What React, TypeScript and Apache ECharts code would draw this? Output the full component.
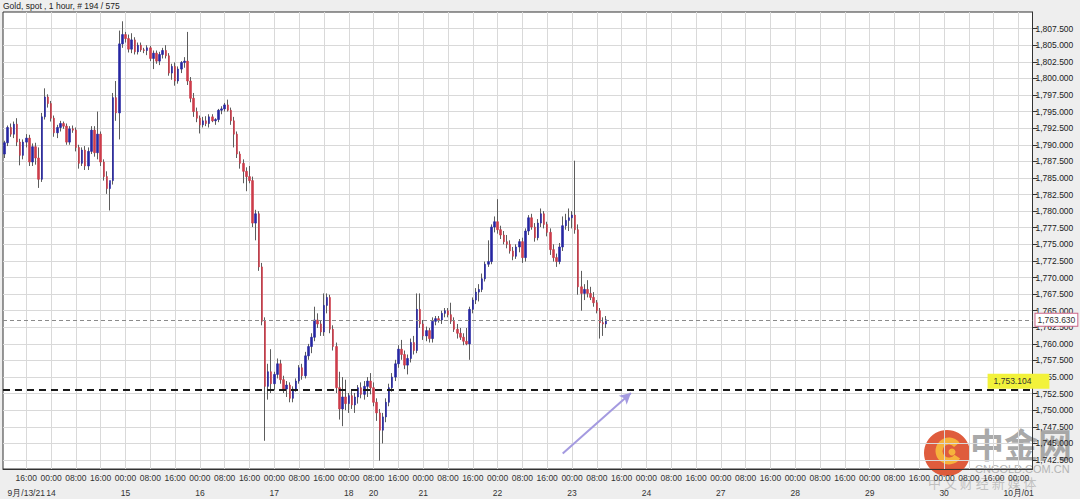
import React, { useEffect, useRef } from "react";
import * as echarts from "echarts";

// Trading-hour slots per day: [day, first hour, last hour, date label]
const daySpans: [string, number, number, string][] = [
  ["09-13", 9, 23, "9月/13/21"],
  ["09-14", 0, 23, "14"],
  ["09-15", 0, 23, "15"],
  ["09-16", 0, 23, "16"],
  ["09-17", 0, 23, "17"],
  ["09-18", 0, 4, "18"],
  ["09-20", 5, 23, "20"],
  ["09-21", 0, 23, "21"],
  ["09-22", 0, 23, "22"],
  ["09-23", 0, 23, "23"],
  ["09-24", 0, 23, "24"],
  ["09-27", 0, 23, "27"],
  ["09-28", 0, 23, "28"],
  ["09-29", 0, 23, "29"],
  ["09-30", 0, 23, "30"],
  ["10-01", 0, 4, "10月/01"],
];

const opens = [
  1788.6, 1790.3, 1792.6, 1791.6, 1793.1, 1790.4, 1788.4, 1790.4, 1791.0, 1787.4,
  1789.7, 1788.0, 1784.8, 1794.2, 1797.2, 1796.2, 1794.0, 1791.8, 1792.6, 1793.2,
  1792.8, 1790.4, 1792.4, 1792.2, 1789.6, 1787.2, 1789.2, 1786.8, 1789.0, 1792.2,
  1788.8, 1791.6, 1787.4, 1785.2, 1783.4, 1784.6, 1797.1, 1794.8, 1805.2, 1806.6,
  1806.0, 1804.4, 1805.8, 1804.0, 1805.0, 1804.3, 1804.2, 1804.6, 1803.0, 1803.8,
  1802.6, 1803.6, 1804.2, 1803.4, 1800.8, 1801.8, 1799.6, 1801.4, 1802.4, 1802.6,
  1799.6, 1797.0, 1795.0, 1794.0, 1793.0, 1793.6, 1793.2, 1794.2, 1793.6, 1793.8,
  1795.2, 1795.4, 1796.0, 1795.2, 1793.6, 1791.6, 1788.6, 1787.2, 1786.0, 1785.2,
  1784.6, 1778.2, 1779.6, 1771.6, 1763.4, 1753.6, 1755.8, 1754.0, 1755.4, 1757.0,
  1754.6, 1753.2, 1753.8, 1751.8, 1753.2, 1754.4, 1756.4, 1755.2, 1758.2, 1759.6,
  1761.0, 1763.6, 1763.0, 1761.8, 1765.8, 1767.0, 1762.2, 1759.6, 1753.4, 1750.2,
  1752.0, 1751.0, 1752.2, 1750.8, 1752.0, 1753.4, 1752.4, 1753.6, 1754.4, 1753.4,
  1751.2, 1749.6, 1747.0, 1749.0, 1751.2, 1753.4, 1755.0, 1757.0, 1759.2, 1758.4,
  1756.8, 1757.8, 1760.2, 1759.0, 1765.2, 1763.0, 1761.2, 1762.0, 1760.8, 1763.4,
  1763.8, 1763.6, 1764.6, 1765.0, 1764.4, 1763.4, 1762.2, 1761.6, 1761.0, 1760.4,
  1760.0, 1765.2, 1766.6, 1767.8, 1768.2, 1769.8, 1772.0, 1772.4, 1777.6, 1778.4,
  1777.2, 1776.4, 1775.4, 1775.0, 1774.0, 1773.2, 1774.6, 1775.4, 1773.0, 1777.0,
  1779.0, 1777.6, 1776.0, 1778.2, 1779.6, 1778.0, 1776.8, 1774.2, 1773.0, 1772.4,
  1774.6, 1777.8, 1778.6, 1779.0, 1779.4, 1777.2, 1768.6, 1767.6, 1768.2, 1767.6,
  1767.0, 1766.2, 1765.0, 1763.2, 1763.0,
];
const highs = [
  1790.6, 1792.9, 1793.2, 1793.5, 1794.0, 1790.9, 1790.8, 1791.6, 1791.5, 1790.2,
  1790.3, 1789.6, 1794.8, 1798.5, 1797.6, 1796.6, 1794.4, 1793.0, 1793.6, 1793.5,
  1793.2, 1792.8, 1792.9, 1792.6, 1790.0, 1789.6, 1789.8, 1789.6, 1792.8, 1792.8,
  1795.0, 1792.0, 1787.8, 1786.0, 1784.2, 1797.8, 1799.6, 1807.2, 1808.6, 1807.0,
  1806.6, 1806.8, 1806.2, 1805.4, 1805.4, 1804.6, 1805.0, 1804.9, 1804.2, 1804.2,
  1804.0, 1804.6, 1805.0, 1803.8, 1802.2, 1802.4, 1801.8, 1802.6, 1803.2, 1807.0,
  1800.2, 1797.8, 1795.6, 1794.4, 1794.2, 1794.3, 1794.6, 1794.6, 1794.0, 1795.4,
  1795.8, 1796.3, 1796.8, 1795.6, 1794.2, 1792.0, 1789.0, 1787.8, 1786.6, 1786.8,
  1785.2, 1780.2, 1780.0, 1772.2, 1764.0, 1757.0, 1759.2, 1755.8, 1757.8, 1757.6,
  1755.2, 1754.4, 1754.2, 1753.6, 1754.8, 1756.8, 1757.0, 1758.8, 1760.0, 1761.6,
  1765.6, 1764.6, 1763.6, 1767.6, 1767.6, 1767.4, 1762.8, 1760.2, 1755.8, 1755.0,
  1754.6, 1752.6, 1753.0, 1752.6, 1753.8, 1754.2, 1754.4, 1755.0, 1755.6, 1754.2,
  1751.8, 1750.2, 1749.6, 1751.8, 1754.0, 1755.6, 1757.6, 1759.8, 1760.6, 1759.0,
  1758.4, 1760.8, 1761.2, 1767.6, 1767.6, 1763.6, 1762.6, 1762.4, 1764.0, 1764.2,
  1764.2, 1765.0, 1765.4, 1765.4, 1766.2, 1764.0, 1763.0, 1762.4, 1761.6, 1762.4,
  1765.6, 1767.0, 1768.4, 1769.0, 1770.6, 1772.4, 1775.6, 1778.0, 1779.2, 1781.8,
  1777.8, 1777.0, 1776.4, 1775.6, 1774.6, 1775.0, 1775.8, 1776.0, 1777.4, 1779.4,
  1779.6, 1778.2, 1778.8, 1780.4, 1780.0, 1778.4, 1777.4, 1775.0, 1773.6, 1775.2,
  1779.2, 1779.6, 1780.4, 1780.0, 1787.6, 1778.0, 1771.0, 1769.0, 1769.6, 1768.6,
  1767.8, 1766.6, 1765.4, 1764.0, 1764.2,
];
const lows = [
  1788.0, 1789.8, 1791.2, 1791.0, 1789.8, 1786.9, 1787.8, 1789.6, 1786.8, 1786.8,
  1787.0, 1783.5, 1784.4, 1793.8, 1795.6, 1793.5, 1791.2, 1791.0, 1792.0, 1792.4,
  1790.0, 1790.0, 1791.8, 1789.0, 1786.4, 1786.8, 1786.2, 1786.2, 1788.6, 1788.2,
  1787.8, 1786.8, 1784.6, 1782.6, 1780.1, 1784.0, 1793.6, 1790.8, 1804.6, 1805.4,
  1803.9, 1803.8, 1803.6, 1803.6, 1804.0, 1803.8, 1803.5, 1802.6, 1801.4, 1802.2,
  1802.0, 1803.0, 1803.0, 1800.4, 1799.8, 1798.9, 1799.2, 1800.8, 1801.6, 1799.0,
  1796.4, 1794.2, 1793.4, 1791.7, 1792.6, 1792.8, 1792.6, 1793.4, 1793.0, 1793.4,
  1794.6, 1795.0, 1795.0, 1793.0, 1789.6, 1788.0, 1786.4, 1784.2, 1783.0, 1784.2,
  1777.6, 1775.6, 1771.0, 1762.8, 1745.4, 1751.6, 1752.6, 1753.0, 1754.8, 1754.0,
  1752.6, 1752.0, 1751.2, 1751.2, 1752.8, 1754.0, 1754.6, 1754.8, 1757.6, 1758.6,
  1760.4, 1762.4, 1761.2, 1761.2, 1764.6, 1761.6, 1759.0, 1752.6, 1748.6, 1747.6,
  1750.0, 1749.6, 1750.2, 1749.6, 1751.0, 1751.8, 1751.6, 1752.0, 1752.4, 1750.6,
  1748.4, 1742.4, 1745.0, 1748.2, 1750.6, 1752.8, 1754.4, 1756.4, 1757.6, 1756.2,
  1755.4, 1757.2, 1758.4, 1758.6, 1762.4, 1760.6, 1760.4, 1760.2, 1760.2, 1762.8,
  1763.2, 1763.0, 1764.0, 1764.0, 1763.0, 1761.8, 1760.8, 1760.6, 1759.8, 1759.8,
  1757.6, 1764.6, 1766.0, 1766.4, 1767.8, 1769.4, 1771.6, 1772.0, 1776.8, 1776.6,
  1775.8, 1775.0, 1774.4, 1773.6, 1772.6, 1772.8, 1773.8, 1772.2, 1772.4, 1776.4,
  1777.2, 1775.4, 1775.6, 1777.6, 1777.4, 1776.2, 1773.4, 1772.4, 1771.6, 1772.0,
  1774.0, 1777.2, 1777.0, 1777.4, 1776.6, 1767.4, 1765.0, 1766.6, 1767.0, 1766.6,
  1765.6, 1764.6, 1760.8, 1761.2, 1762.4,
];
const closes = [
  1790.3, 1792.6, 1791.6, 1793.1, 1790.4, 1788.4, 1790.4, 1791.0, 1787.4, 1789.7,
  1788.0, 1784.8, 1794.2, 1797.2, 1796.2, 1794.0, 1791.8, 1792.6, 1793.2, 1792.8,
  1790.4, 1792.4, 1792.2, 1789.6, 1787.2, 1789.2, 1786.8, 1789.0, 1792.2, 1788.8,
  1791.6, 1787.4, 1785.2, 1783.4, 1784.6, 1797.1, 1794.8, 1805.2, 1806.6, 1806.0,
  1804.4, 1805.8, 1804.0, 1805.0, 1804.3, 1804.2, 1804.6, 1803.0, 1803.8, 1802.6,
  1803.6, 1804.2, 1803.4, 1800.8, 1801.8, 1799.6, 1801.4, 1802.4, 1802.6, 1799.6,
  1797.0, 1795.0, 1794.0, 1793.0, 1793.6, 1793.2, 1794.2, 1793.6, 1793.8, 1795.2,
  1795.4, 1796.0, 1795.2, 1793.6, 1791.6, 1788.6, 1787.2, 1786.0, 1785.2, 1784.6,
  1778.2, 1779.6, 1771.6, 1763.4, 1753.6, 1755.8, 1754.0, 1755.4, 1757.0, 1754.6,
  1753.2, 1753.8, 1751.8, 1753.2, 1754.4, 1756.4, 1755.2, 1758.2, 1759.6, 1761.0,
  1763.6, 1763.0, 1761.8, 1765.8, 1767.0, 1762.2, 1759.6, 1753.4, 1750.2, 1752.0,
  1751.0, 1752.2, 1750.8, 1752.0, 1753.4, 1752.4, 1753.6, 1754.4, 1753.4, 1751.2,
  1749.6, 1747.0, 1749.0, 1751.2, 1753.4, 1755.0, 1757.0, 1759.2, 1758.4, 1756.8,
  1757.8, 1760.2, 1759.0, 1765.2, 1763.0, 1761.2, 1762.0, 1760.8, 1763.4, 1763.8,
  1763.6, 1764.6, 1765.0, 1764.4, 1763.4, 1762.2, 1761.6, 1761.0, 1760.4, 1760.0,
  1765.2, 1766.6, 1767.8, 1768.2, 1769.8, 1772.0, 1772.4, 1777.6, 1778.4, 1777.2,
  1776.4, 1775.4, 1775.0, 1774.0, 1773.2, 1774.6, 1775.4, 1773.0, 1777.0, 1779.0,
  1777.6, 1776.0, 1778.2, 1779.6, 1778.0, 1776.8, 1774.2, 1773.0, 1772.4, 1774.6,
  1777.8, 1778.6, 1779.0, 1779.4, 1777.2, 1768.6, 1767.6, 1768.2, 1767.6, 1767.0,
  1766.2, 1765.0, 1763.2, 1763.0, 1763.63,
];

const yTickValues = [
  1742.5, 1745, 1747.5, 1750, 1752.5, 1755, 1757.5, 1760, 1762.5, 1765, 1767.5,
  1770, 1772.5, 1775, 1777.5, 1780, 1782.5, 1785, 1787.5, 1790, 1792.5, 1795,
  1797.5, 1800, 1802.5, 1805, 1807.5,
];
const yMin = 1741.15;
const yMax = 1810.0;
const lastPrice = 1763.63;
const supportLevel = 1753.104;
const titleText = "Gold, spot , 1 hour, # 194 / 575";
const arrowFrom: [number, number] = [180, 1743.5];
const arrowTo: [number, number] = [202, 1752.6];

const pad2 = (n: number) => (n < 10 ? "0" + n : "" + n);
const fmt = (v: number) =>
  v.toLocaleString("en-US", { minimumFractionDigits: 3, maximumFractionDigits: 3 });

// build hourly slot categories
const slotHours: number[] = [];
const slotDays: number[] = [];
const categories: string[] = [];
daySpans.forEach(([day, s, e], di) => {
  for (let h = s; h <= e; h++) {
    categories.push(`${day} ${pad2(h)}:00`);
    slotHours.push(h);
    slotDays.push(di);
  }
});
const isTimeTick = (i: number) => slotHours[i] % 8 === 0;
const dateLabelAt: Record<number, string> = {};
{
  const seen: Record<number, boolean> = {};
  for (let i = 0; i < categories.length; i++) {
    if (slotHours[i] % 8 === 0 && !seen[slotDays[i]]) {
      seen[slotDays[i]] = true;
      dateLabelAt[i] = daySpans[slotDays[i]][3];
    }
  }
}

const FONT = "'Liberation Sans', Arial, sans-serif";
const UP = "#2626a2";
const DOWN = "#cc3c4a";
const WICK = "#5c5c5c";

export default function App() {
  const ref = useRef<HTMLDivElement>(null);
  useEffect(() => {
    if (!ref.current) return;
    const chart = echarts.init(ref.current, undefined, { renderer: "svg" });
    const wickData = opens.map((o, i) => [o, closes[i], lows[i], highs[i]]);
    const bodyData = opens.map((o, i) => [
      o,
      closes[i],
      Math.min(o, closes[i]),
      Math.max(o, closes[i]),
    ]);
    chart.setOption({
      animation: false,
      backgroundColor: "#eeeeee",
      textStyle: { fontFamily: FONT },
      title: {
        text: titleText,
        left: 3,
        top: 1,
        padding: 0,
        textStyle: { fontSize: 8.5, color: "#222", fontWeight: "normal", fontFamily: FONT },
      },
      grid: {
        left: 3,
        right: 47.5,
        top: 12,
        bottom: 30,
        show: true,
        backgroundColor: "#ffffff",
        borderColor: "#333",
        borderWidth: 1,
      },
      xAxis: [
        {
          type: "category",
          data: categories,
          axisLine: { show: true, lineStyle: { color: "#333" } },
          axisTick: { show: false },
          axisLabel: {
            interval: (i: number) => isTimeTick(i),
            formatter: (_v: string, i: number) => pad2(slotHours[i]) + ":00",
            fontSize: 8.5,
            color: "#333",
            margin: 4,
            fontFamily: FONT,
          },
          splitLine: {
            show: true,
            interval: (i: number) => isTimeTick(i),
            alignWithLabel: true,
            lineStyle: { color: "#d9d9d9", width: 1 },
          },
        },
        {
          type: "category",
          data: categories,
          gridIndex: 0,
          position: "bottom",
          offset: 15,
          axisLine: { show: false },
          axisTick: { show: false },
          splitLine: { show: false },
          axisLabel: {
            interval: (i: number) => dateLabelAt[i] !== undefined,
            formatter: (_v: string, i: number) => dateLabelAt[i] || "",
            fontSize: 8.5,
            color: "#333",
            margin: 4,
            fontFamily: FONT,
          },
        },
      ],
      yAxis: {
        type: "value",
        position: "right",
        min: yMin,
        max: yMax,
        axisLine: { show: true, lineStyle: { color: "#333" } },
        axisTick: {
          show: true,
          length: 5,
          customValues: yTickValues,
          lineStyle: { color: "#333" },
        },
        axisLabel: {
          customValues: yTickValues,
          formatter: (v: number) => fmt(v),
          fontSize: 8.5,
          color: "#222",
          margin: 3,
          fontFamily: FONT,
        },
        splitLine: { show: true, lineStyle: { color: "#d9d9d9", width: 1 } },
      },
      series: [
        {
          type: "candlestick",
          name: "wick",
          data: wickData,
          barWidth: 0.5,
          itemStyle: {
            color: WICK,
            color0: WICK,
            borderColor: WICK,
            borderColor0: WICK,
            borderWidth: 1,
          },
          silent: true,
        },
        {
          type: "candlestick",
          name: "body",
          data: bodyData,
          barWidth: 2,
          itemStyle: {
            color: UP,
            color0: DOWN,
            borderColor: UP,
            borderColor0: DOWN,
            borderWidth: 0.6,
          },
          silent: true,
          markLine: {
            silent: true,
            symbol: ["none", "none"],
            animation: false,
            data: [
              {
                yAxis: lastPrice,
                lineStyle: { color: "#8a8a8a", width: 1, type: [4, 3] },
                label: {
                  show: true,
                  position: "end",
                  distance: 3,
                  formatter: fmt(lastPrice),
                  color: "#333",
                  fontSize: 8.5,
                  fontFamily: FONT,
                  backgroundColor: "#ffffff",
                  borderColor: "#cc6688",
                  borderWidth: 1,
                  padding: [2, 2, 1, 2],
                },
              },
              {
                yAxis: supportLevel,
                lineStyle: { color: "#1a1a1a", width: 2, type: [7, 5] },
                label: {
                  show: true,
                  position: "insideEndTop",
                  distance: [14, 1],
                  align: "center",
                  formatter: fmt(supportLevel),
                  color: "#333",
                  fontSize: 8.5,
                  fontFamily: FONT,
                  backgroundColor: "#f2f23a",
                  padding: [3, 18, 3, 6],
                },
              },
              [
                {
                  coord: arrowFrom,
                  symbol: "none",
                  lineStyle: { color: "#a49ae0", width: 2, type: "solid" },
                  label: { show: false },
                },
                { coord: arrowTo, symbol: "arrow", symbolSize: [9, 11] },
              ],
            ],
          },
        },
      ],
      graphic: [
        {
          type: "group",
          z: 100,
          children: [
            { type: "circle", shape: { cx: 947, cy: 453, r: 23 }, style: { fill: "#dc4a28", opacity: 0.9 } },
            { type: "arc", shape: { cx: 949, cy: 451, r: 10, startAngle: 0.6, endAngle: 5.6 }, style: { stroke: "#f6b23c", lineWidth: 7, fill: "none" } },
            { type: "circle", shape: { cx: 952, cy: 452, r: 3.5 }, style: { fill: "#f6b23c" } },
            {
              type: "text",
              x: 970,
              y: 426,
              style: { text: "中金网", font: "bold 34px 'Noto Sans CJK SC'", fill: "#9a9a9a", opacity: 0.85 },
            },
            {
              type: "text",
              x: 975,
              y: 463,
              style: { text: "CNGOLD.COM.CN", font: "11px " + FONT, fill: "#b4b4b4" },
            },
            {
              type: "text",
              x: 928,
              y: 476,
              style: { text: "中 文 财 经 新 媒 体", font: "13px 'Noto Sans CJK SC'", fill: "#b8b8b8", opacity: 0.85 },
            },
          ],
        },
      ],
    });
    return () => chart.dispose();
  }, []);
  return (
    <div
      ref={ref}
      style={{ position: "fixed", left: 0, top: 0, width: 1080, height: 499, background: "#eeeeee" }}
    />
  );
}
